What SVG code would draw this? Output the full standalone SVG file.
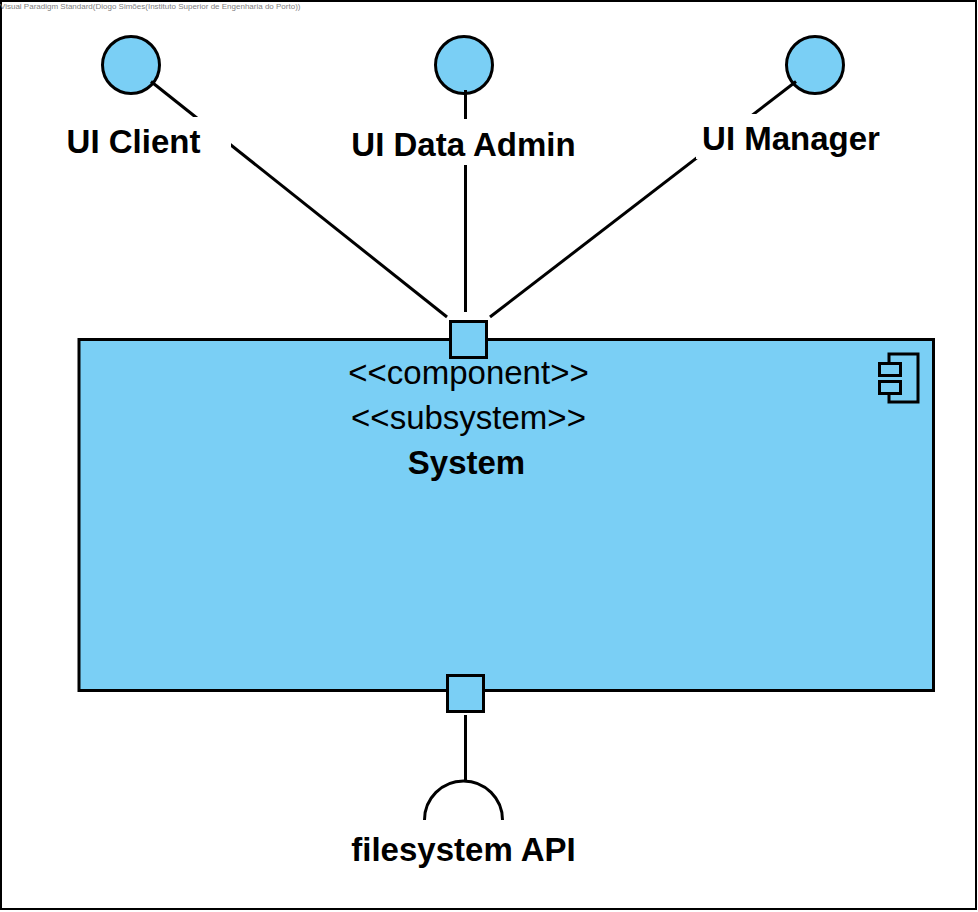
<svg xmlns="http://www.w3.org/2000/svg" width="978" height="912" viewBox="0 0 978 912">
  <style>
    text { font-family: "Liberation Sans", Arial, sans-serif; fill: #000; text-anchor: middle; }
    .label { font-size: 33px; font-weight: bold; }
    .stereo { font-size: 33px; }
    .shape { fill: #7ACFF5; stroke: #000; stroke-width: 3; }
    .line { fill: none; stroke: #000; stroke-width: 3; }
    .mask { fill: #fff; }
  </style>
  <rect x="0" y="0" width="978" height="912" fill="#fff"/>
  <rect x="1" y="1" width="975" height="908" fill="none" stroke="#000" stroke-width="2"/>
  <text x="0" y="9" style="font-size:8px;fill:#808080;text-anchor:start">Visual Paradigm Standard(Diogo Simões(Instituto Superior de Engenharia do Porto))</text>
  <g id="ui-client"><circle class="shape" cx="131" cy="65" r="28.500"/></g>
  <g id="ui-data-admin"><circle class="shape" cx="464" cy="65" r="28.500"/></g>
  <g id="ui-manager"><circle class="shape" cx="815" cy="65" r="28.500"/></g>
  <g id="connectors">
    <path class="line" d="M151 81.500L447 317"/>
    <path class="line" d="M465.500 90V312"/>
    <path class="line" d="M796 81.500L490 317"/>
    <path class="line" d="M465.500 715V782"/>
  </g>
  <g id="system">
    <rect x="79" y="339" width="856" height="353" fill="#7ACFF5"/>
    <rect class="shape" x="79" y="339.500" width="854.500" height="351"/>
    <path class="line" d="M889 363V354H918V402H889V393"/>
    <rect class="shape" x="879.500" y="363.500" width="21" height="12"/>
    <rect class="shape" x="879.500" y="381.500" width="21" height="12"/>
    <text class="stereo" x="468.500" y="384">&lt;&lt;component&gt;&gt;</text>
    <text class="stereo" x="468.500" y="429">&lt;&lt;subsystem&gt;&gt;</text>
    <text class="label" x="466.500" y="474">System</text>
  </g>
  <g id="port-top"><rect class="shape" x="450.500" y="321.500" width="36" height="36"/></g>
  <g id="port-bottom"><rect class="shape" x="447.500" y="675.500" width="36" height="36"/></g>
  <g id="ui-client-label">
    <rect class="mask" x="63" y="117" width="168" height="45"/>
    <text class="label" x="133.500" y="153">UI Client</text>
  </g>
  <g id="ui-data-admin-label">
    <rect class="mask" x="348" y="119" width="232" height="46"/>
    <text class="label" x="463.500" y="156">UI Data Admin</text>
  </g>
  <g id="ui-manager-label">
    <rect class="mask" x="696" y="114" width="190" height="45"/>
    <text class="label" x="791" y="150">UI Manager</text>
  </g>
  <g id="filesystem-api">
    <path class="line" d="M424.500 820A39 39 0 0 1 502.500 820"/>
    <text class="label" x="463.500" y="861">filesystem API</text>
  </g>
</svg>
